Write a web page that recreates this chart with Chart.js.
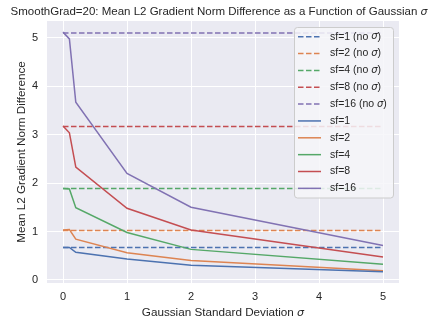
<!DOCTYPE html>
<html>
<head>
<meta charset="utf-8">
<script src="https://cdn.jsdelivr.net/npm/chart.js@4/dist/chart.umd.min.js"></script>
<style>
html,body{margin:0;padding:0;background:#fff;}
#wrap{width:438px;height:324px;}
</style>
</head>
<body>
<div id="wrap"><canvas id="c" width="438" height="324"></canvas></div>
<script>
const sigmas = [0, 0.1, 0.2, 1, 2, 5];
const sf1 = [0.67, 0.67, 0.57, 0.43, 0.30, 0.17];
const sf2 = [1.03, 1.04, 0.84, 0.56, 0.40, 0.19];
const sf4 = [1.89, 1.88, 1.49, 0.98, 0.63, 0.32];
const sf8 = [3.18, 3.04, 2.33, 1.48, 1.03, 0.47];
const sf16 = [5.12, 4.98, 3.67, 2.20, 1.50, 0.71];
const baselineNoSigma = [0.67, 1.02, 1.89, 3.17, 5.10];
const baselineRange = [0, 5];
const seriesNames = ['sf=1', 'sf=2', 'sf=4', 'sf=8', 'sf=16'];
const xTicks = [0, 1, 2, 3, 4, 5];
const yTicks = [0, 1, 2, 3, 4, 5];
const titleText = 'SmoothGrad=20: Mean L2 Gradient Norm Difference as a Function of Gaussian σ';
const xTitleText = 'Gaussian Standard Deviation σ';
const yTitleText = 'Mean L2 Gradient Norm Difference';

const colors = ['#4C72B0', '#DD8452', '#55A868', '#C44E52', '#8172B3'];
const series = [sf1, sf2, sf4, sf8, sf16];

const datasets = [];
baselineNoSigma.forEach((v, i) => {
  datasets.push({
    label: seriesNames[i] + ' (no σ)',
    data: baselineRange.map(x => ({x: x, y: v})),
    borderColor: colors[i],
    borderWidth: 1.5,
    borderDash: [5.5, 2.5],
    pointRadius: 0,
    fill: false,
    tension: 0,
    order: 10
  });
});
series.forEach((s, i) => {
  datasets.push({
    label: seriesNames[i],
    data: sigmas.map((x, j) => ({x: x, y: s[j]})),
    borderColor: colors[i],
    borderWidth: 1.5,
    pointRadius: 0,
    fill: false,
    tension: 0,
    order: 5
  });
});

const FONT = '"Liberation Sans", Arial, sans-serif';
const SIGMA_FONT = '"DejaVu Sans", sans-serif';
const TEXT = '#262626';

// draw text where σ is rendered in italic (like matplotlib mathtext)
function richText(ctx, text, x, y, size, align) {
  const parts = text.split('σ');
  const segs = [];
  parts.forEach((p, i) => {
    if (p) segs.push({t: p, f: size + 'px ' + FONT});
    if (i < parts.length - 1) segs.push({t: 'σ', f: 'italic ' + (size * 0.95) + 'px ' + SIGMA_FONT});
  });
  let total = 0;
  segs.forEach(s => { ctx.font = s.f; s.w = ctx.measureText(s.t).width; total += s.w; });
  let cx = align === 'center' ? x - total / 2 : x;
  ctx.textAlign = 'left';
  segs.forEach(s => { ctx.font = s.f; ctx.fillText(s.t, cx, y); cx += s.w; });
}

const bgPlugin = {
  id: 'bg',
  beforeDraw(chart) {
    const a = chart.chartArea, ctx = chart.ctx;
    ctx.save();
    ctx.fillStyle = '#EAEAF2';
    ctx.fillRect(a.left, a.top, a.right - a.left, a.bottom - a.top);
    ctx.restore();
  }
};

const textPlugin = {
  id: 'texts',
  afterDraw(chart) {
    const ctx = chart.ctx, a = chart.chartArea;
    ctx.save();
    ctx.fillStyle = TEXT;
    ctx.textBaseline = 'middle';
    richText(ctx, titleText, 219, 12, 11.5, 'center');
    richText(ctx, xTitleText, (a.left + a.right) / 2, 313, 11.7, 'center');
    ctx.restore();
  }
};

const legendPlugin = {
  id: 'boxLegend',
  afterDatasetsDraw(chart) {
    const ctx = chart.ctx;
    const ds = chart.data.datasets;
    const left = 294, top = 27, w = 99, rowH = 16.85;
    const h = rowH * ds.length + 2;
    ctx.save();
    ctx.beginPath();
    if (ctx.roundRect) ctx.roundRect(left + 0.5, top + 0.5, w, h, 3); else ctx.rect(left + 0.5, top + 0.5, w, h);
    ctx.fillStyle = 'rgba(246,246,249,0.85)';
    ctx.fill();
    ctx.strokeStyle = '#CCCCCC';
    ctx.lineWidth = 1;
    ctx.stroke();
    ctx.textBaseline = 'middle';
    ds.forEach((d, i) => {
      const y = top + 9.7 + i * rowH;
      ctx.beginPath();
      ctx.strokeStyle = d.borderColor;
      ctx.lineWidth = 1.5;
      ctx.setLineDash(d.borderDash || []);
      ctx.moveTo(298, y);
      ctx.lineTo(321, y);
      ctx.stroke();
      ctx.setLineDash([]);
      ctx.fillStyle = TEXT;
      richText(ctx, d.label, 330, y, 10.5, 'left');
    });
    ctx.restore();
  }
};

new Chart(document.getElementById('c'), {
  type: 'line',
  data: {datasets: datasets},
  options: {
    responsive: false,
    animation: false,
    devicePixelRatio: 1,
    layout: {padding: {left: 0, right: 39, top: 21, bottom: 0}},
    plugins: {
      legend: {display: false},
      tooltip: {enabled: false},
      title: {display: false}
    },
    scales: {
      x: {
        type: 'linear',
        min: -0.25, max: 5.25,
        afterBuildTicks: s => { s.ticks = xTicks.map(v => ({value: v})); },
        afterFit: s => { s.height = 41; },
        grid: {color: '#ffffff', lineWidth: 1, drawTicks: false},
        border: {display: false},
        ticks: {color: TEXT, font: {family: FONT, size: 11}, padding: 7}
      },
      y: {
        type: 'linear',
        min: -0.065, max: 5.35,
        afterBuildTicks: s => { s.ticks = yTicks.map(v => ({value: v})); },
        afterFit: s => { s.width = 47; },
        grid: {color: '#ffffff', lineWidth: 1, drawTicks: false},
        border: {display: false},
        ticks: {color: TEXT, font: {family: FONT, size: 11}, padding: 9},
        title: {display: true, text: yTitleText, color: TEXT,
                font: {family: FONT, size: 11.7}, padding: {top: 14.8, bottom: 0}}
      }
    }
  },
  plugins: [bgPlugin, legendPlugin, textPlugin]
});
</script>
</body>
</html>
